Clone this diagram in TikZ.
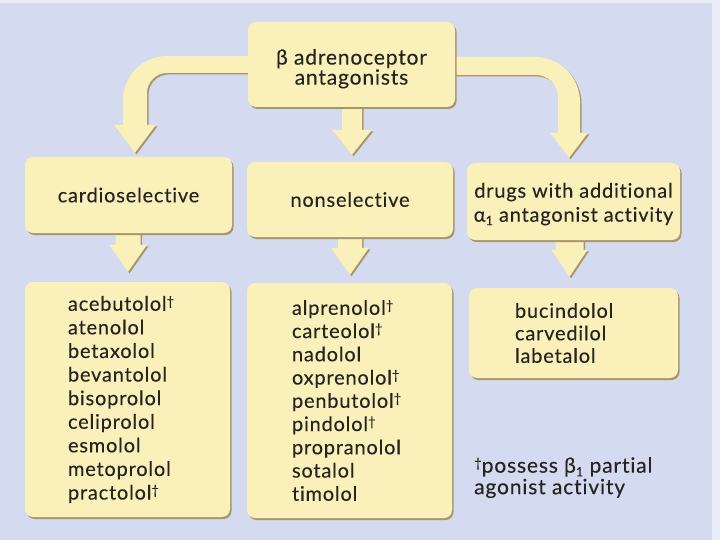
\documentclass[tikz,border=0pt]{standalone}
\usepackage{fontspec}
\setmainfont[LetterSpace=4,FakeBold=0.2,Ligatures=NoCommon]{Lato}
\usetikzlibrary{calc,backgrounds,shadows}
\definecolor{bgc}{RGB}{212,219,240}
\definecolor{edgec}{RGB}{234,237,248}
\definecolor{boxc}{RGB}{250,240,186}
\definecolor{shc}{RGB}{168,150,104}
\definecolor{txc}{RGB}{38,36,34}
\newcommand\dg{\raisebox{0.5ex}{\fontsize{13}{13}\selectfont †}}
\newcommand\subone{\raisebox{-0.35ex}{\fontsize{13}{13}\selectfont 1}}
% straight fat arrow: #1 from, #2 to, #3 x offset, #4 gap, #5 head length, #6 shaft half, #7 head half, #8 style, #9 offset
\newcommand\vfat[9]{%
\fill[#8] let \p1=(#1), \p2=(#2) in
 (\x1+#3-#6+#9, \y1+1pt-#9) -- (\x1+#3-#6+#9, \y2+#4+#5-#9)
 -- (\x1+#3-#7+#9, \y2+#4+#5-#9) -- (\x1+#3+#9, \y2+#4-#9)
 -- (\x1+#3+#7+#9, \y2+#4+#5-#9) -- (\x1+#3+#6+#9, \y2+#4+#5-#9)
 -- (\x1+#3+#6+#9, \y1+1pt-#9) -- cycle;}
% left curved fat arrow
\newcommand\leftcurve[2]{%
\fill[#1] let \p1=(top.west), \p2=(cs.north), \p3=(\x2+6.5pt+#2,\y1-#2) in
 (\x1+3pt+#2, \y3+8.5pt) -- (\x3+32pt, \y3+8.5pt)
 .. controls (\x3+7.7pt, \y3+8.5pt) and (\x3-12pt, \y3-11.2pt) .. (\x3-12pt, \y3-35.5pt)
 -- (\x3-12pt, \y2+32pt-#2) -- (\x3-21pt, \y2+32pt-#2) -- (\x3, \y2+4pt-#2)
 -- (\x3+21pt, \y2+32pt-#2) -- (\x3+12pt, \y2+32pt-#2) -- (\x3+12pt, \y3-28.5pt)
 .. controls (\x3+12pt, \y3-17.5pt) and (\x3+21pt, \y3-8.5pt) .. (\x3+32pt, \y3-8.5pt)
 -- (\x1+3pt+#2, \y3-8.5pt) -- cycle;}
% right curved fat arrow
\newcommand\rightcurve[2]{%
\fill[#1] let \p1=(top.east), \p2=(dr.north), \p3=(\x2-4.5pt+#2,\y1-1.5pt-#2) in
 (\x1-3pt+#2, \y3+9pt) -- (\x3-34pt, \y3+9pt)
 .. controls (\x3-9.2pt, \y3+9pt) and (\x3+11pt, \y3-11.2pt) .. (\x3+11pt, \y3-36pt)
 -- (\x3+11pt, \y2+30pt-#2) -- (\x3+19pt, \y2+30pt-#2) -- (\x3, \y2+5pt-#2)
 -- (\x3-19pt, \y2+30pt-#2) -- (\x3-11pt, \y2+30pt-#2) -- (\x3-11pt, \y3-31pt)
 .. controls (\x3-11pt, \y3-18.9pt) and (\x3-20.9pt, \y3-9pt) .. (\x3-33pt, \y3-9pt)
 -- (\x1-3pt+#2, \y3-9pt) -- cycle;}
\begin{document}
\begin{tikzpicture}[x=1pt,y=-1pt,
  box/.style={fill=boxc, rounded corners=8pt, text=txc, inner sep=0pt,
    drop shadow={shadow xshift=1.5pt, shadow yshift=-2pt, fill=shc, opacity=1}},
  listfont/.style={font=\fontsize{20}{#1}\selectfont},
  arrowfill/.style={fill=boxc},
  arrowshadow/.style={fill=shc}]
\useasboundingbox (0,0) rectangle (720,540);

\node[box, minimum width=207pt, minimum height=85pt, align=center, font=\fontsize{21}{20}\selectfont] (top) at (351.5,64.5) {\rule{0pt}{24pt}β adrenoceptor\\antagonists};

\node[box, minimum width=207pt, minimum height=76pt, listfont=22] (cs) at (128.5,195) {cardioselective};
\node[box, minimum width=206pt, minimum height=75pt, listfont=22] (ns) at (350,199.5) {nonselective};
\node[box, minimum width=213pt, minimum height=77pt, align=center, listfont=24] (dr) at (573.5,201.5) {\rule{0pt}{20pt}drugs with additional\\α\subone\ antagonist activity};

\node[box, minimum width=205pt, minimum height=235pt, text width=119pt, inner xsep=43pt, align=left, listfont=23.6] (cl) at (127.5,399.5)
 {acebutolol\dg\\atenolol\\betaxolol\\bevantolol\\bisoprolol\\celiprolol\\esmolol\\metoprolol\\practolol\dg};
\node[box, minimum width=205pt, minimum height=235pt, text width=115pt, inner xsep=45pt, align=left, listfont=23.25] (nl) at (349.5,400.5)
 {alprenolol\dg\\carteolol\dg\\nadolol\\oxprenolol\dg\\penbutolol\dg\\pindolol\dg\\propranolol\\sotalol\\timolol};
\node[box, minimum width=209pt, minimum height=90pt, text width=117pt, inner xsep=46pt, align=left, listfont=22.5] (rl) at (573.5,333)
 {bucindolol\\carvedilol\\labetalol};

\node[anchor=north west, inner sep=0pt, align=left, text=txc, font=\fontsize{21}{21.5}\selectfont] (fn) at (474,457)
 {\dg possess β\subone\ partial\\agonist activity};

\begin{scope}[on background layer]
\fill[bgc] (0,0) rectangle (720,540);
\fill[edgec] (0,0) rectangle (720,3);
\fill[edgec] (712,0) rectangle (720,540);
\leftcurve{arrowshadow}{1.5pt}
\leftcurve{arrowfill}{0pt}
\rightcurve{arrowshadow}{1.5pt}
\rightcurve{arrowfill}{0pt}
\vfat{top.south}{ns.north}{0.5pt}{7pt}{25pt}{10pt}{20pt}{arrowshadow}{1.5pt}
\vfat{top.south}{ns.north}{0.5pt}{7pt}{25pt}{10pt}{20pt}{arrowfill}{0pt}
\vfat{cs.south}{cl.north}{-0.5pt}{10pt}{27pt}{12.5pt}{19pt}{arrowshadow}{1.5pt}
\vfat{cs.south}{cl.north}{-0.5pt}{10pt}{27pt}{12.5pt}{19pt}{arrowfill}{0pt}
\vfat{ns.south}{nl.north}{0pt}{8pt}{27pt}{12pt}{19pt}{arrowshadow}{1.5pt}
\vfat{ns.south}{nl.north}{0pt}{8pt}{27pt}{12pt}{19pt}{arrowfill}{0pt}
\vfat{dr.south}{rl.north}{-4pt}{11pt}{27pt}{14pt}{18pt}{arrowshadow}{1.5pt}
\vfat{dr.south}{rl.north}{-4pt}{11pt}{27pt}{14pt}{18pt}{arrowfill}{0pt}
\end{scope}
\end{tikzpicture}
\end{document}
